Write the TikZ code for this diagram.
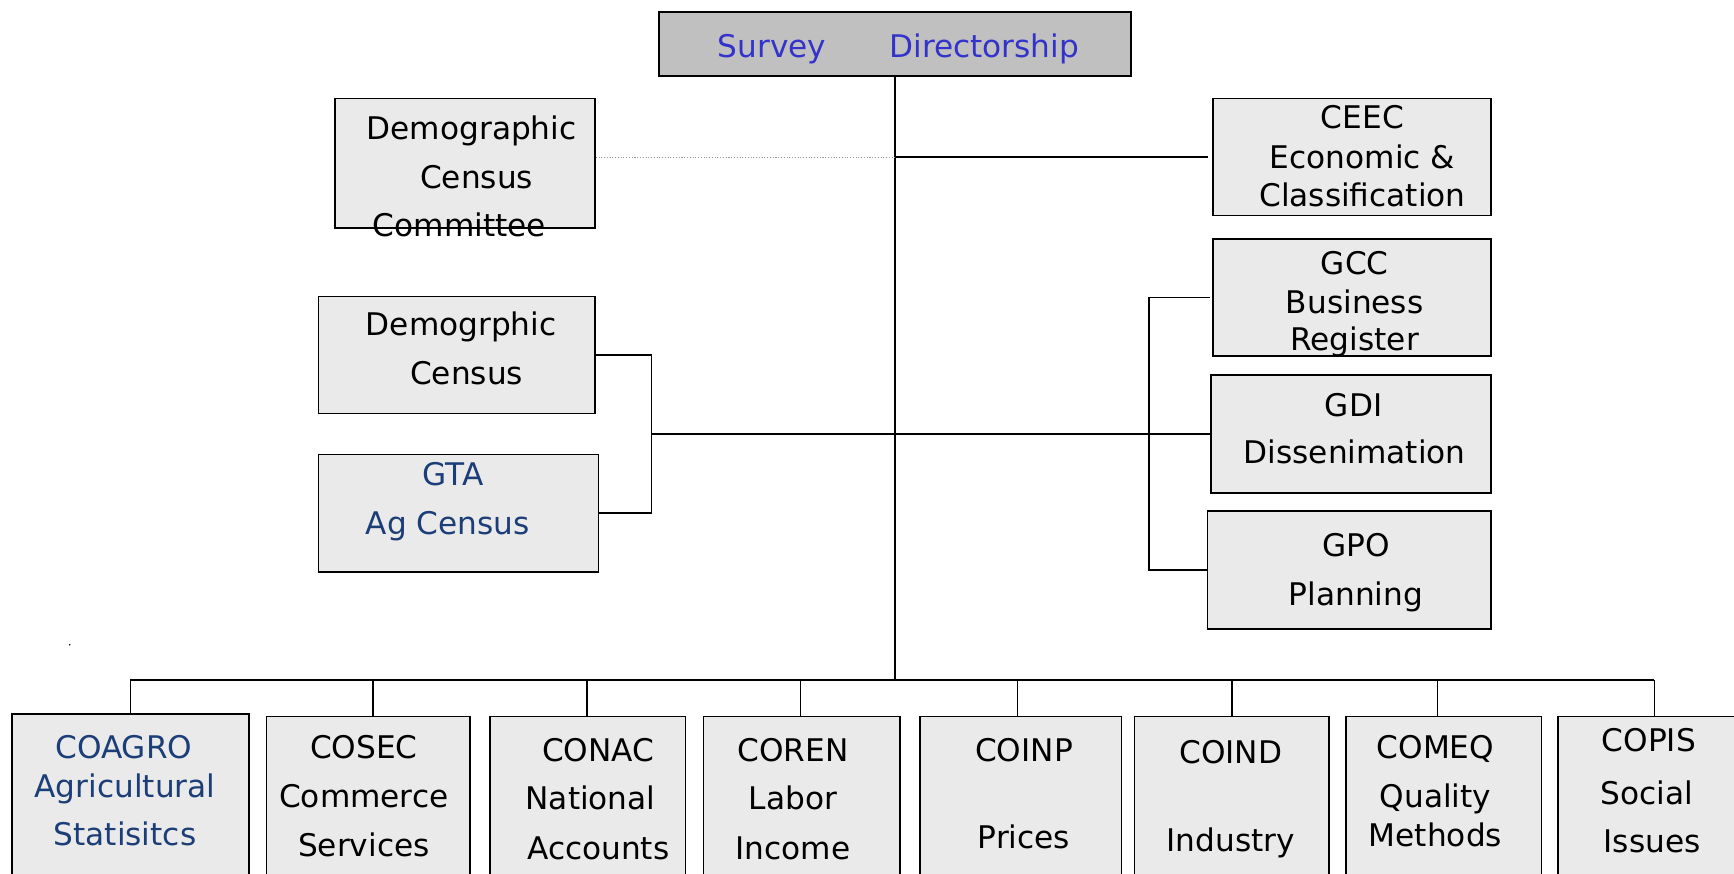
\documentclass[tikz,border=0pt]{standalone}
\usepackage{fontspec}
\setmainfont{DejaVu Sans}
\definecolor{boxfill}{RGB}{234,234,234}
\definecolor{topfill}{RGB}{192,192,192}
\definecolor{titleblue}{RGB}{51,51,204}
\definecolor{navy}{RGB}{28,62,120}
\begin{document}
\begin{tikzpicture}[x=1pt,y=-1pt,
  box/.style={draw=black, line width=1.4pt, fill=boxfill, inner sep=0pt},
  topbox/.style={draw=black, line width=1.6pt, fill=topfill, inner sep=0pt},
  txt/.style={inner sep=0pt, text height=20.6pt, text depth=0pt, font=\fontsize{28.2}{34}\selectfont},
  link/.style={line width=1.5pt},
  dotline/.style={line width=0.9pt, draw=black!40, dash pattern=on 1pt off 1.5pt}]
\useasboundingbox (0,0) rectangle (1568,790);
\clip (0,0) rectangle (1568,790);
\fill[white] (0,0) rectangle (1568,790);

% boxes
\node[topbox, minimum width=427pt, minimum height=58pt] (top) at (809.5,40) {};
\node[box, minimum width=235pt, minimum height=117pt] (dcc) at (420.5,147.5) {};
\node[box, minimum width=251pt, minimum height=106pt] (ceec) at (1222.5,142) {};
\node[box, minimum width=251pt, minimum height=106pt] (gcc) at (1222.5,269) {};
\node[box, minimum width=253pt, minimum height=107pt] (gdi) at (1221.5,392.5) {};
\node[box, minimum width=256pt, minimum height=107pt] (gpo) at (1220,515.5) {};
\node[box, minimum width=250pt, minimum height=106pt] (dem) at (413,321) {};
\node[box, minimum width=253pt, minimum height=106pt] (gta) at (414.5,464) {};
\node[box, line width=1.8pt, minimum width=214pt, minimum height=164pt] (coagro) at (118,728) {};
\node[box, minimum width=184pt, minimum height=162pt] (cosec) at (333,729) {};
\node[box, minimum width=177pt, minimum height=162pt] (conac) at (531.5,729) {};
\node[box, minimum width=178pt, minimum height=162pt] (coren) at (725,729) {};
\node[box, minimum width=182pt, minimum height=162pt] (coinp) at (923,729) {};
\node[box, minimum width=176pt, minimum height=162pt] (coind) at (1114,729) {};
\node[box, minimum width=177pt, minimum height=162pt] (comeq) at (1305.5,729) {};
\node[box, minimum width=174pt, minimum height=162pt] (copis) at (1496,729) {};

% connectors
\coordinate (bus) at (808,615);
\coordinate (lb) at (589,392.5);
\coordinate (rb) at (1039,392.5);
\draw[link] (top.south) -- (top.south |- bus);
\draw[dotline] (dcc.east |- ceec.west) -- (top.south |- ceec.west);
\draw[link] (top.south |- ceec.west) -- ([xshift=-4pt]ceec.west);
\draw[link] (dem.east) -| (lb) |- (gta.east);
\draw[link] (lb) -- (gdi.west);
\draw[link] ([xshift=-2pt]gcc.west) -| (rb) |- (gpo.west);
\draw[link] (coagro.north |- bus) -- (copis.north |- bus);
\foreach \n/\dx in {coagro/0,cosec/4,conac/-0.5,coren/-1,coinp/-3,coind/0,comeq/-5.5,copis/0}
  \draw[link] ([xshift=\dx pt]\n.north |- bus) -- ([xshift=\dx pt]\n.north);
\fill (63,583) circle (0.8pt);

% texts
\node[txt, text=titleblue] (ttl) at (812.5,42) {Survey\hspace{57pt}Directorship};

\node[txt] (dcc1) at (426.5,116) {Demographic};
\node[txt] (dcc2) at (431,160) {Census};
\node[txt] (dcc3) at (415.5,204) {Committee};

\node[txt] (ceec1) at (1232,106) {CEEC};
\node[txt] (ceec2) at (1232,142) {Economic \&};
\node[txt] (ceec3) at (1232,176) {Classification};

\node[txt] (gcc1) at (1225,238) {GCC};
\node[txt] (gcc2) at (1225,273) {Business};
\node[txt] (gcc3) at (1225,307) {Register};

\node[txt] (gdi1) at (1224,366) {GDI};
\node[txt] (gdi2) at (1225,409) {Dissenimation};

\node[txt] (gpo1) at (1226,493) {GPO};
\node[txt] (gpo2) at (1226,537) {Planning};

\node[txt] (dem1) at (417,293) {Demogrphic};
\node[txt] (dem2) at (422,337) {Census};

\node[txt, text=navy] (gta1) at (410,429) {GTA};
\node[txt, text=navy] (gta2) at (405,473) {Ag Census};

\node[txt, text=navy] (ca1) at (112,676) {COAGRO};
\node[txt, text=navy] (ca2) at (113,711) {Agricultural};
\node[txt, text=navy] (ca3) at (113,754) {Statisitcs};

\node[txt] (cs1) at (329,676) {COSEC};
\node[txt] (cs2) at (329,720) {Commerce};
\node[txt] (cs3) at (329,764) {Services};

\node[txt] (cn1) at (541,678) {CONAC};
\node[txt] (cn2) at (534,722) {National};
\node[txt] (cn3) at (541,767) {Accounts};

\node[txt] (cr1) at (717,678) {COREN};
\node[txt] (cr2) at (717,722) {Labor};
\node[txt] (cr3) at (717,767) {Income};

\node[txt] (cp1) at (926,678) {COINP};
\node[txt] (cp2) at (926,757) {Prices};

\node[txt] (ci1) at (1113,680) {COIND};
\node[txt] (ci2) at (1113,760) {Industry};

\node[txt] (cm1) at (1298,676) {COMEQ};
\node[txt] (cm2) at (1298,720) {Quality};
\node[txt] (cm3) at (1298,755) {Methods};

\node[txt] (co1) at (1491,669) {COPIS};
\node[txt] (co2) at (1489,717) {Social};
\node[txt] (co3) at (1494,761) {Issues};
\end{tikzpicture}
\end{document}
